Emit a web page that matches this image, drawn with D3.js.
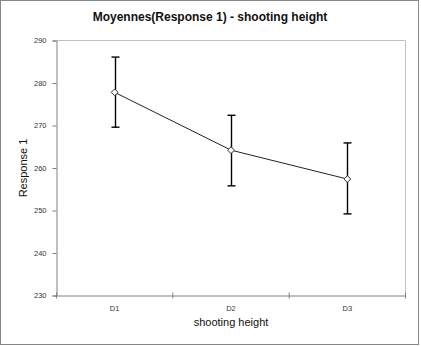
<!DOCTYPE html>
<html><head><meta charset="utf-8">
<script src="https://cdn.jsdelivr.net/npm/d3@7"></script>
<style>body{margin:0;background:#fff}svg{display:block;font-family:Arial,"Liberation Sans",sans-serif}</style>
</head><body>
<svg id="c" width="421" height="346"></svg>
<script>
const categories = ["D1", "D2", "D3"];
const means = [277.8, 264.2, 257.4];
const errLow = [269.6, 255.8, 249.2];
const errHigh = [286.1, 272.4, 265.9];
const yTicks = [230, 240, 250, 260, 270, 280, 290];
const title = "Moyennes(Response 1) - shooting height";
const xTitle = "shooting height";
const yTitle = "Response 1";

const svg = d3.select("#c");
const m = {l: 56.5, r: 405.5, t: 40.5, b: 295.5};

svg.append("rect").attr("x", 0.5).attr("y", 0.5).attr("width", 418).attr("height", 344)
  .attr("fill", "#fff").attr("stroke", "#888");

const x = d3.scaleBand().domain(categories).range([m.l, m.r]);
const y = d3.scaleLinear().domain([230, 290]).range([m.b, m.t]);

// plot border top/right
svg.append("path").attr("d", `M${m.l},${m.t}H${m.r}V${m.b}`).attr("fill", "none").attr("stroke", "#c0c0c0");

// y axis
const ya = svg.append("g").attr("transform", `translate(${m.l},0)`)
  .call(d3.axisLeft(y).tickValues(yTicks).tickSize(4).tickPadding(6).tickFormat(d3.format("d")));
ya.select(".domain").attr("stroke", "#808080");
ya.selectAll(".tick line").attr("stroke", "#808080");
ya.selectAll("text").attr("font-size", 7.5).attr("fill", "#333").attr("font-family", "Arial,'Liberation Sans',sans-serif");

// x axis
const xa = svg.append("g").attr("transform", `translate(0,${m.b})`)
  .call(d3.axisBottom(x).tickSize(0).tickPadding(10));
xa.select(".domain").attr("stroke", "#808080");
xa.selectAll("text").attr("font-size", 7.5).attr("fill", "#333").attr("font-family", "Arial,'Liberation Sans',sans-serif");
const bounds = categories.map(c => x(c)).concat([x(categories[categories.length-1]) + x.bandwidth()]);
svg.append("g").selectAll("line").data(bounds).join("line")
  .attr("x1", d => d).attr("x2", d => d).attr("y1", m.b - 3).attr("y2", m.b + 3)
  .attr("stroke", "#808080");

const cx = c => x(c) + x.bandwidth() / 2;

// line
svg.append("path").datum(categories)
  .attr("d", d3.line().x(c => cx(c)).y((c, i) => y(means[i])))
  .attr("fill", "none").attr("stroke", "#222").attr("stroke-width", 1);

// error bars
const eb = svg.append("g").attr("stroke", "#000").attr("stroke-width", 1.4);
categories.forEach((c, i) => {
  const xc = Math.round(cx(c)) + 0.5;
  eb.append("line").attr("x1", xc).attr("x2", xc).attr("y1", y(errLow[i])).attr("y2", y(errHigh[i]));
  eb.append("line").attr("x1", xc - 4).attr("x2", xc + 4).attr("y1", y(errLow[i])).attr("y2", y(errLow[i]));
  eb.append("line").attr("x1", xc - 4).attr("x2", xc + 4).attr("y1", y(errHigh[i])).attr("y2", y(errHigh[i]));
});

// markers
svg.append("g").selectAll("path").data(categories).join("path")
  .attr("d", d3.symbol().type(d3.symbolDiamond2).size(30))
  .attr("transform", (c, i) => `translate(${cx(c)},${y(means[i])}) rotate(0)`)
  .attr("fill", "#fff").attr("stroke", "#333").attr("stroke-width", 1);

// titles
svg.append("text").attr("x", 210).attr("y", 21).attr("text-anchor", "middle")
  .attr("font-size", 12).attr("font-weight", "bold").attr("fill", "#111").text(title);
svg.append("text").attr("x", 231).attr("y", 326).attr("text-anchor", "middle")
  .attr("font-size", 11).attr("fill", "#111").text(xTitle);
svg.append("text").attr("transform", `translate(27,${(m.t + m.b) / 2}) rotate(-90)`)
  .attr("text-anchor", "middle").attr("font-size", 11).attr("fill", "#111").text(yTitle);
</script>
</body></html>
